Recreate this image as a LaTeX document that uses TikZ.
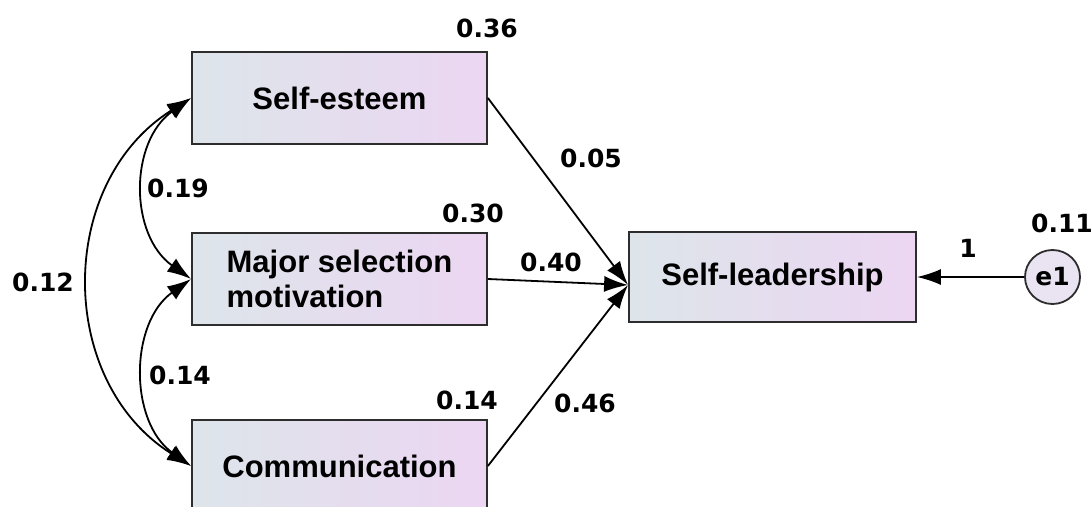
\documentclass[tikz,border=0pt]{standalone}
\usepackage{fontspec}
\setmainfont{Liberation Sans}
\newfontfamily\numfont{DejaVu Sans}
\usetikzlibrary{arrows.meta,shapes.geometric}
\definecolor{boxL}{RGB}{221,229,234}
\definecolor{boxR}{RGB}{236,214,242}
\definecolor{edgec}{RGB}{45,45,45}
\definecolor{ellfill}{RGB}{234,228,242}
\begin{document}
\begin{tikzpicture}[x=1pt,y=-1pt,
  var/.style={draw=edgec, line width=1.8pt, left color=boxL, right color=boxR,
    minimum width=295pt, minimum height=92pt, inner sep=0pt,
    font=\bfseries\fontsize{31}{35}\selectfont},
  num/.style={font=\numfont\bfseries\fontsize{25}{25}\selectfont, inner sep=0pt},
  reg/.style={draw=black, line width=1.8pt, -{Latex[length=24pt,width=16pt]}},
  cov/.style={draw=black, line width=1.8pt, {Latex[length=24pt,width=16pt]}-{Latex[length=24pt,width=16pt]}}
]
\useasboundingbox (0,0) rectangle (1091,506);
\clip (0,0) rectangle (1091,506);
\fill[white] (0,0) rectangle (1091,506);

\node[var] (se) at (339.5,98) {Self-esteem};
\node[var, align=left] (ms) at (339.5,279) {Major selection\\motivation};
\node[var] (cm) at (339.5,466) {Communication};
\node[var, minimum width=287pt, minimum height=90pt] (sl) at (772.5,277) {Self-leadership};
\node[ellipse, draw=edgec, line width=1.8pt, fill=ellfill, minimum width=55pt,
  minimum height=54pt, inner sep=0pt, font=\numfont\bfseries\fontsize{25}{25}\selectfont] (e1) at (1052.5,277) {e1};

\coordinate (tgt) at ([yshift=-8pt]sl.west);

\draw[reg] (se.east) -- (tgt);
\draw[reg] (ms.east) -- (tgt);
\draw[reg] (cm.east) -- (tgt);
\draw[reg] (e1.west) -- (sl.east);

\draw[cov] (se.west) .. controls +(-62,44) and +(-62,-44) .. (ms.west);
\draw[cov] (ms.west) .. controls +(-62,44) and +(-62,-44) .. (cm.west);
\draw[cov] (se.west) .. controls +(-135,85) and +(-135,-85) .. (cm.west);

\node[num] (l36) at (487,28) {0.36};
\node[num] (l05) at (591,158) {0.05};
\node[num] (l30) at (473,213) {0.30};
\node[num] (l40) at (551,262) {0.40};
\node[num] (l14a) at (467,400) {0.14};
\node[num] (l46) at (585,403) {0.46};
\node[num] (l19) at (178,188) {0.19};
\node[num] (l12) at (43,282) {0.12};
\node[num] (l14b) at (180,375) {0.14};
\node[num] (l1) at (968,248) {1};
\node[num] (l11) at (1062,223) {0.11};
\end{tikzpicture}
\end{document}
